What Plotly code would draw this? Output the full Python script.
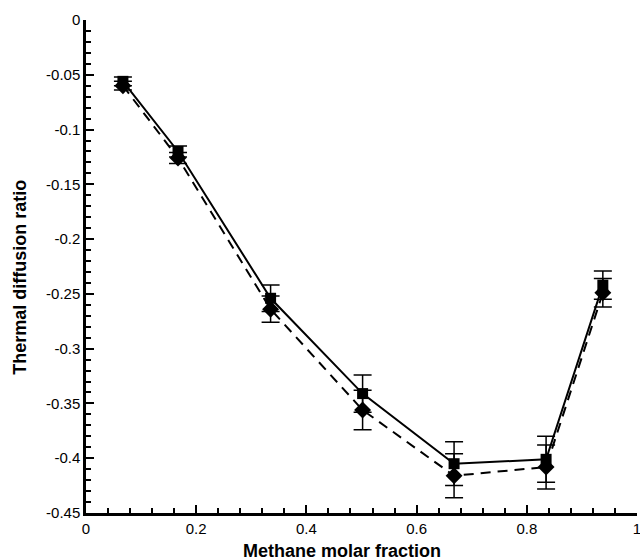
import plotly.graph_objects as go

# Methane molar fraction for each mixture
methane_fraction = [0.067, 0.167, 0.335, 0.502, 0.668, 0.835, 0.938]

# Thermal diffusion ratio, series A (squares, solid line) and its error
ratio_a = [-0.056, -0.120, -0.254, -0.341, -0.405, -0.401, -0.242]
err_a = [0.004, 0.005, 0.012, 0.017, 0.020, 0.021, 0.013]

# Thermal diffusion ratio, series B (diamonds, dashed line) and its error
ratio_b = [-0.060, -0.126, -0.264, -0.356, -0.416, -0.408, -0.249]
err_b = [0.004, 0.005, 0.012, 0.018, 0.020, 0.020, 0.013]

# Axis tick values and labels
x_ticks = [0, 0.2, 0.4, 0.6, 0.8, 1.0]
x_labels = ["0", "0.2", "0.4", "0.6", "0.8", "1"]
y_ticks = [0, -0.05, -0.1, -0.15, -0.2, -0.25, -0.3, -0.35, -0.4, -0.45]
y_labels = ["0", "-0.05", "-0.1", "-0.15", "-0.2", "-0.25", "-0.3", "-0.35", "-0.4", "-0.45"]

fig = go.Figure()

fig.add_trace(go.Scatter(
    x=methane_fraction, y=ratio_b, mode="lines+markers",
    line=dict(color="black", width=2, dash="10px,7px"),
    marker=dict(symbol="diamond", size=13, color="black"),
    error_y=dict(type="data", array=err_b, color="black", thickness=1.5, width=9),
    showlegend=False,
))
fig.add_trace(go.Scatter(
    x=methane_fraction, y=ratio_a, mode="lines+markers",
    line=dict(color="black", width=2),
    marker=dict(symbol="square", size=11, color="black"),
    error_y=dict(type="data", array=err_a, color="black", thickness=1.5, width=9),
    showlegend=False,
))

title_font = dict(family="Arial", size=18, color="black", weight="bold")

fig.update_layout(
    width=640, height=560,
    margin=dict(l=86, r=3, t=20, b=47),
    paper_bgcolor="white", plot_bgcolor="white",
    font=dict(family="Arial", color="black", size=15),
    annotations=[
        dict(text="Methane molar fraction", xref="paper", yref="paper",
             x=0.465, y=-0.0775, xanchor="center", yanchor="middle",
             showarrow=False, font=title_font),
        dict(text="Thermal diffusion ratio", xref="paper", yref="paper",
             x=-0.12, y=0.479, xanchor="center", yanchor="middle",
             textangle=-90, showarrow=False, font=title_font),
    ],
)
fig.update_xaxes(
    range=[0, 1], showgrid=False, zeroline=False, automargin=False,
    showline=True, linecolor="black", linewidth=2.5,
    ticks="inside", ticklen=8, tickwidth=2, tickcolor="black",
    tickvals=x_ticks, ticktext=x_labels, ticklabeloverflow="allow",
    minor=dict(ticks="inside", ticklen=5, tickwidth=1.5, tickcolor="black", dtick=0.04, showgrid=False),
)
fig.update_yaxes(
    range=[-0.45, 0], showgrid=False, zeroline=False, automargin=False,
    showline=True, linecolor="black", linewidth=2.5,
    ticks="inside", ticklen=8, tickwidth=2, tickcolor="black",
    tickvals=y_ticks, ticktext=y_labels,
    minor=dict(ticks="inside", ticklen=5, tickwidth=1.5, tickcolor="black", dtick=0.01, showgrid=False),
)

fig.write_html("out.html")
